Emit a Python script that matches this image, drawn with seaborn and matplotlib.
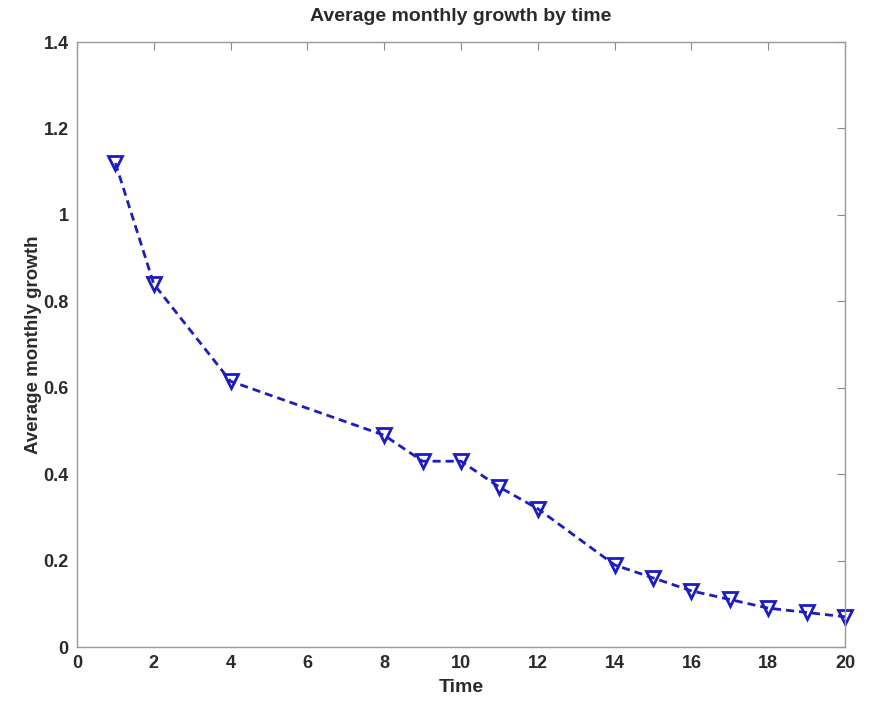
import matplotlib
matplotlib.use("Agg")
import matplotlib.pyplot as plt
import seaborn as sns
import pandas as pd

time = [1, 2, 4, 8, 9, 10, 11, 12, 14, 15, 16, 17, 18, 19, 20]
growth = [1.12, 0.84, 0.615, 0.49, 0.43, 0.43, 0.37, 0.32, 0.19, 0.16, 0.13, 0.11, 0.09, 0.08, 0.07]
x_ticks = [0, 2, 4, 6, 8, 10, 12, 14, 16, 18, 20]
y_ticks = [0, 0.2, 0.4, 0.6, 0.8, 1.0, 1.2, 1.4]
y_tick_labels = ["0", "0.2", "0.4", "0.6", "0.8", "1", "1.2", "1.4"]

df = pd.DataFrame({"Time": time, "Growth": growth})

sns.set_style("white")
plt.rcParams["font.family"] = ["Liberation Sans", "DejaVu Sans"]
plt.rcParams["font.weight"] = "bold"
ink = "#2a2a2a"
plt.rcParams["text.color"] = ink
plt.rcParams["axes.labelcolor"] = ink
plt.rcParams["xtick.labelcolor"] = ink
plt.rcParams["ytick.labelcolor"] = ink

fig = plt.figure(figsize=(8.69, 7.01), dpi=100)
ax = fig.add_axes([0.0886, 0.077, 0.8838, 0.863])

blue = "#1c1cc0"
sns.lineplot(data=df, x="Time", y="Growth", ax=ax, color=blue,
             linestyle="--", linewidth=2.0, marker="v", markersize=9.5,
             markerfacecolor="none", markeredgecolor=blue,
             markeredgewidth=2.0, dashes=False)
line = ax.lines[0]
line.set_linestyle((0, (2.9, 1.8)))
line.set_clip_on(False)

ax.set_xlim(0, 20)
ax.set_ylim(0, 1.4)
ax.set_xticks(x_ticks)
ax.set_yticks(y_ticks)
ax.set_yticklabels(y_tick_labels)
ax.tick_params(direction="in", length=6, width=0.8, color="#888888",
               labelsize=13, top=True, right=True, pad=6)
for s in ax.spines.values():
    s.set_color("#999999")
    s.set_linewidth(1.0)
ax.set_xlabel("Time", fontsize=14, labelpad=5, fontweight="bold")
ax.set_ylabel("Average monthly growth", fontsize=13.5, labelpad=1, fontweight="bold")
ax.set_title("Average monthly growth by time", fontsize=14, pad=15, fontweight="bold")

fig.savefig("out.png", dpi=100)
